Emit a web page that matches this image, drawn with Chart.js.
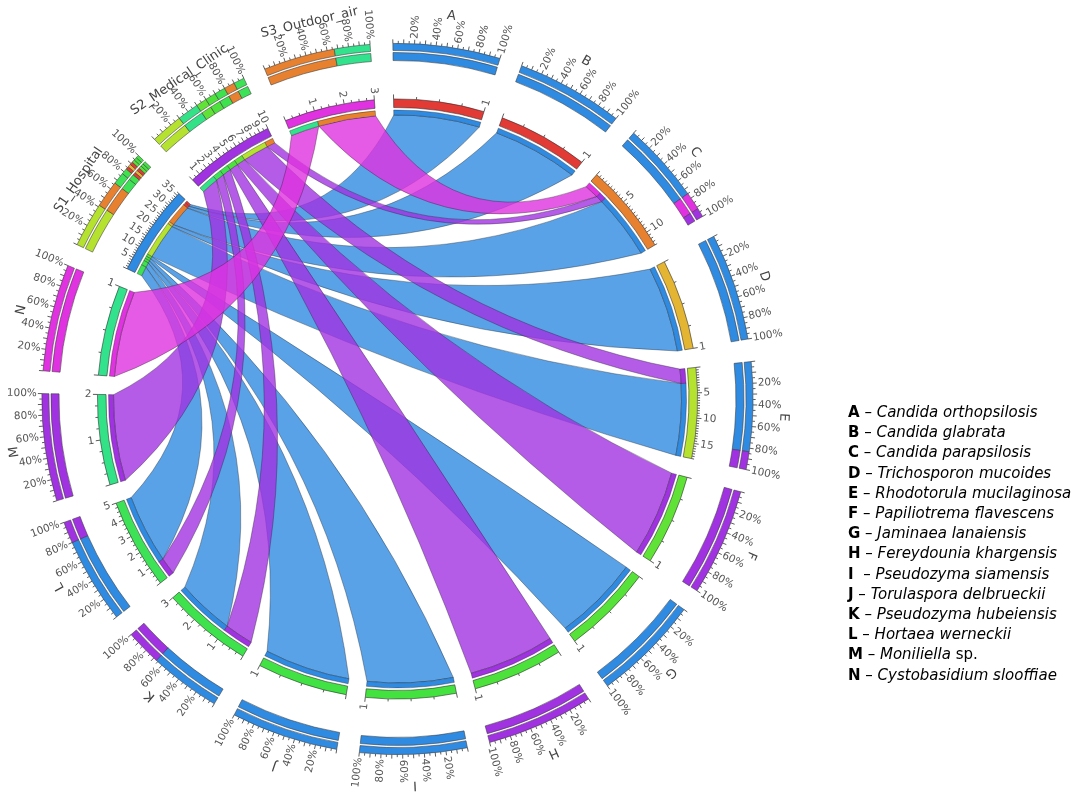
<!DOCTYPE html>
<html>
<head>
<meta charset="utf-8">
<script src="https://cdn.jsdelivr.net/npm/chart.js@4.4.1/dist/chart.umd.min.js"></script>
<style>
  html, body { margin: 0; padding: 0; background: #fff; }
  #wrap { position: relative; width: 1080px; height: 802px; }
  #chord { position: absolute; left: 0; top: 0; }
  #legend { position: absolute; left: 848px; top: 402px; font-family: "DejaVu Sans", sans-serif;
            font-size: 15px; line-height: 20.2px; color: #000; white-space: nowrap; }
  #legend b { font-weight: bold; }
</style>
</head>
<body>
<div id="wrap">
  <canvas id="chord" width="1080" height="802"></canvas>
  <div id="legend"></div>
</div>
<script>
// segments around the circle, clockwise from the top
var segLabels = ['A', 'B', 'C', 'D', 'E', 'F', 'G', 'H', 'I', 'J', 'K', 'L', 'M', 'N',
                 'S1_Hospital', 'S2_Medical_Clinic', 'S3_Outdoor_air'];
var segColors = ['#e23a35', '#e23a35', '#e8812f', '#e4b532', '#b5e22f', '#60e236', '#56e238',
                 '#4ce23b', '#44e23e', '#40e244', '#3ee24d', '#3ee257', '#33e287', '#33e28c',
                 '#2f8be2', '#a132e2', '#e032e0'];

// isolates per sampling site, one value per species A..N
var targetNames = ['A', 'B', 'C', 'D', 'E', 'F', 'G', 'H', 'I', 'J', 'K', 'L', 'M', 'N'];
var hospitalCounts = [1, 1, 9, 1, 15, 0, 1, 0, 1, 1, 2, 4, 0, 0];
var clinicCounts   = [0, 0, 1, 0, 3, 1, 0, 1, 0, 0, 1, 1, 2, 0];
var outdoorCounts  = [0, 0, 2, 0, 0, 0, 0, 0, 0, 0, 0, 0, 0, 1];

// order of equal shares in the percentage rings
var ringTieOrder = ['A', 'D', 'B', 'F', 'G', 'H', 'I', 'K', 'C', 'J', 'L', 'E', 'M', 'N',
                    'S1_Hospital', 'S2_Medical_Clinic', 'S3_Outdoor_air'];

var speciesNames = ['Candida orthopsilosis', 'Candida glabrata', 'Candida parapsilosis',
  'Trichosporon mucoides', 'Rhodotorula mucilaginosa', 'Papiliotrema flavescens',
  'Jaminaea lanaiensis', 'Fereydounia khargensis', 'Pseudozyma siamensis',
  'Torulaspora delbrueckii', 'Pseudozyma hubeiensis', 'Hortaea werneckii',
  'Moniliella sp.', 'Cystobasidium slooffiae'];

var pctLabels = [20, 40, 60, 80, 100];

// layout
var gapShare = 0.21;        // gap between segments, relative to one segment
var startRotation = -0.75;  // degrees
var cx0 = 397.5, cy0 = 399, outerR = 356;

var n = segLabels.length;
var sourceIdx = [14, 15, 16];
var sourceCounts = [hospitalCounts, clinicCounts, outdoorCounts];

var links = [];
sourceCounts.forEach(function(arr, s) {
    arr.forEach(function(v, t) {
        if (v > 0) links.push({ s: sourceIdx[s], t: t, v: v });
    });
});

var totals = segLabels.map(function() { return 0; });
links.forEach(function(l) { totals[l.s] += l.v; totals[l.t] += l.v; });

// place every link end inside its segment (nearest counter-clockwise neighbour first)
segLabels.forEach(function(name, i) {
    var ends = [];
    links.forEach(function(l) {
        if (l.s === i) ends.push({ link: l, other: l.t, side: 's' });
        if (l.t === i) ends.push({ link: l, other: l.s, side: 't' });
    });
    ends.sort(function(a, b) { return ((i - a.other + n) % n) - ((i - b.other + n) % n); });
    var pos = 0;
    ends.forEach(function(e) {
        e.link[e.side + '0'] = pos;
        pos += e.link.v;
        e.link[e.side + '1'] = pos;
    });
});

// share of each partner for the two outer percentage rings
function composition(k) {
    var out = [];
    links.forEach(function(l) {
        var other = l.s === k ? l.t : (l.t === k ? l.s : -1);
        if (other >= 0) out.push({ v: l.v, color: segColors[other], order: ringTieOrder.indexOf(segLabels[other]) });
    });
    out.sort(function(a, b) { return (b.v - a.v) || (a.order - b.order); });
    return out;
}

var ringData = [], ringColors = [], ringBorders = [];
var ideoData = [], ideoColors = [], ideoBorders = [];
segLabels.forEach(function(name, k) {
    composition(k).forEach(function(c) {
        ringData.push(c.v / totals[k]);
        ringColors.push(c.color);
        ringBorders.push(0.7);
    });
    ringData.push(gapShare); ringColors.push('rgba(0,0,0,0)'); ringBorders.push(0);
    // every segment is normalised to the same arc length
    ideoData.push(totals[k] / totals[k]); ideoColors.push(segColors[k]); ideoBorders.push(0.7);
    ideoData.push(gapShare); ideoColors.push('rgba(0,0,0,0)'); ideoBorders.push(0);
});

function rgba(hex, a) {
    var r = parseInt(hex.substr(1, 2), 16), g = parseInt(hex.substr(3, 2), 16), b = parseInt(hex.substr(5, 2), 16);
    return 'rgba(' + r + ',' + g + ',' + b + ',' + a + ')';
}

// text along a radius, flipped on the left half so it stays readable
function radialText(ctx, text, cx, cy, a, r) {
    var deg = ((a + Math.PI / 2) * 180 / Math.PI) % 360;
    if (deg < 0) deg += 360;
    ctx.save();
    ctx.translate(cx + r * Math.cos(a), cy + r * Math.sin(a));
    if (deg < 180) { ctx.rotate(a); ctx.textAlign = 'left'; }
    else { ctx.rotate(a + Math.PI); ctx.textAlign = 'right'; }
    ctx.textBaseline = 'middle';
    ctx.fillText(text, 0, 0);
    ctx.restore();
}

var chordPlugin = {
    id: 'chordRibbons',
    afterDatasetsDraw: function(chart) {
        var ctx = chart.ctx;
        var meta = chart.getDatasetMeta(4);
        var segs = [];
        for (var k = 0; k < n; k++) {
            var a = meta.data[k * 2];
            segs.push({ sa: a.startAngle, ea: a.endAngle, r0: a.innerRadius, r1: a.outerRadius });
        }
        var cx = meta.data[0].x, cy = meta.data[0].y;
        var rIn = segs[0].r0;
        var rr = rIn - 7.5;      // ribbon end
        var stripW = 5;
        var pctR = chart.getDatasetMeta(0).data[0].outerRadius;

        function ang(k, u) { return segs[k].sa + (segs[k].ea - segs[k].sa) * u / totals[k]; }
        function curveTo(a, b) {
            var d = b - a;
            while (d > Math.PI) d -= 2 * Math.PI;
            while (d < -Math.PI) d += 2 * Math.PI;
            var mid = a + d / 2;
            var rb = rr * 0.8 * (1 - Math.abs(d) / Math.PI);
            ctx.quadraticCurveTo(cx + rb * Math.cos(mid), cy + rb * Math.sin(mid),
                                 cx + rr * Math.cos(b), cy + rr * Math.sin(b));
        }

        ctx.save();
        // ribbons
        ctx.lineWidth = 0.6;
        ctx.strokeStyle = 'rgba(30,30,30,0.6)';
        links.forEach(function(l) {
            var p0 = ang(l.s, l.s0), p1 = ang(l.s, l.s1), q0 = ang(l.t, l.t0), q1 = ang(l.t, l.t1);
            ctx.beginPath();
            ctx.arc(cx, cy, rr, p0, p1);
            curveTo(p1, q0);
            ctx.arc(cx, cy, rr, q0, q1);
            curveTo(q1, p0);
            ctx.closePath();
            ctx.fillStyle = rgba(segColors[l.s], 0.8);
            ctx.fill();
            ctx.stroke();
        });

        // thin strips at ribbon ends, coloured by the other end
        function strip(a0, a1, color) {
            ctx.beginPath();
            ctx.arc(cx, cy, rr + stripW, a0, a1);
            ctx.arc(cx, cy, rr, a1, a0, true);
            ctx.closePath();
            ctx.fillStyle = color;
            ctx.fill();
            ctx.stroke();
        }
        links.forEach(function(l) {
            strip(ang(l.s, l.s0), ang(l.s, l.s1), segColors[l.t]);
            strip(ang(l.t, l.t0), ang(l.t, l.t1), segColors[l.s]);
        });

        // ideogram ticks and labels
        ctx.strokeStyle = '#333';
        ctx.fillStyle = '#555';
        ctx.lineWidth = 0.8;
        ctx.font = '10.5px "DejaVu Sans"';
        segs.forEach(function(g, k) {
            var T = totals[k];
            var minor = T >= 30 ? 1 : (T >= 10 ? 0.5 : 0.25);
            var major = T > 10 ? 5 : 1;
            var steps = Math.round(T / minor);
            for (var i = 0; i <= steps; i++) {
                var u = i * minor;
                var isMajor = Math.abs(u / major - Math.round(u / major)) < 1e-6;
                var a = ang(k, u);
                var len = isMajor ? 4.5 : 2.5;
                ctx.beginPath();
                ctx.moveTo(cx + g.r1 * Math.cos(a), cy + g.r1 * Math.sin(a));
                ctx.lineTo(cx + (g.r1 + len) * Math.cos(a), cy + (g.r1 + len) * Math.sin(a));
                ctx.stroke();
                if (isMajor && u > 0) radialText(ctx, String(u), cx, cy, a, g.r1 + 6);
            }
        });

        // percentage ring ticks and labels
        segs.forEach(function(g, k) {
            for (var p = 0; p <= 100; p += 5) {
                var a = g.sa + (g.ea - g.sa) * p / 100;
                var len = p % 10 === 0 ? 4 : 2.5;
                ctx.beginPath();
                ctx.moveTo(cx + pctR * Math.cos(a), cy + pctR * Math.sin(a));
                ctx.lineTo(cx + (pctR + len) * Math.cos(a), cy + (pctR + len) * Math.sin(a));
                ctx.stroke();
            }
            pctLabels.forEach(function(p) {
                var a = g.sa + (g.ea - g.sa) * p / 100;
                radialText(ctx, p + '%', cx, cy, a, pctR + 5);
            });
        });

        // segment names
        ctx.fillStyle = '#444';
        ctx.font = '13px "DejaVu Sans"';
        ctx.textAlign = 'center';
        ctx.textBaseline = 'middle';
        segs.forEach(function(g, k) {
            var a = (g.sa + g.ea) / 2;
            var r = pctR + 31;
            ctx.save();
            ctx.translate(cx + r * Math.cos(a), cy + r * Math.sin(a));
            ctx.rotate(a + Math.PI / 2);
            ctx.fillText(segLabels[k], 0, 0);
            ctx.restore();
        });
        ctx.restore();
    }
};

var clear = 'rgba(0,0,0,0)';
var chart = new Chart(document.getElementById('chord'), {
    type: 'doughnut',
    data: {
        labels: segLabels,
        datasets: [
            { data: ringData, backgroundColor: ringColors, borderWidth: ringBorders, borderColor: 'rgba(60,60,60,0.8)', weight: 7 },
            { data: [1], backgroundColor: clear, borderWidth: 0, weight: 2 },
            { data: ringData, backgroundColor: ringColors, borderWidth: ringBorders, borderColor: 'rgba(60,60,60,0.8)', weight: 8 },
            { data: [1], backgroundColor: clear, borderWidth: 0, weight: 38 },
            { data: ideoData, backgroundColor: ideoColors, borderWidth: ideoBorders, borderColor: 'rgba(40,40,40,0.8)', weight: 8.5 }
        ]
    },
    options: {
        responsive: false,
        animation: false,
        events: [],
        rotation: startRotation,
        cutout: 291.5,
        hoverBorderWidth: 0,
        hoverOffset: 0,
        layout: { padding: { left: cx0 - outerR, top: cy0 - outerR, right: 1080 - cx0 - outerR, bottom: 802 - cy0 - outerR } },
        plugins: { legend: { display: false }, tooltip: { enabled: false } }
    },
    plugins: [chordPlugin]
});

// species legend
var legendEl = document.getElementById('legend');
targetNames.forEach(function(t, i) {
    var row = document.createElement('div');
    var name = speciesNames[i];
    var suffix = '';
    if (name.slice(-4) === ' sp.') { suffix = ' sp.'; name = name.slice(0, -4); }
    row.innerHTML = '<b>' + t + '</b>' + (t === 'I' ? '&nbsp; \u2013 ' : ' \u2013 ') +
        '<i>' + name + '</i>' + suffix;
    legendEl.appendChild(row);
});
</script>
</body>
</html>
